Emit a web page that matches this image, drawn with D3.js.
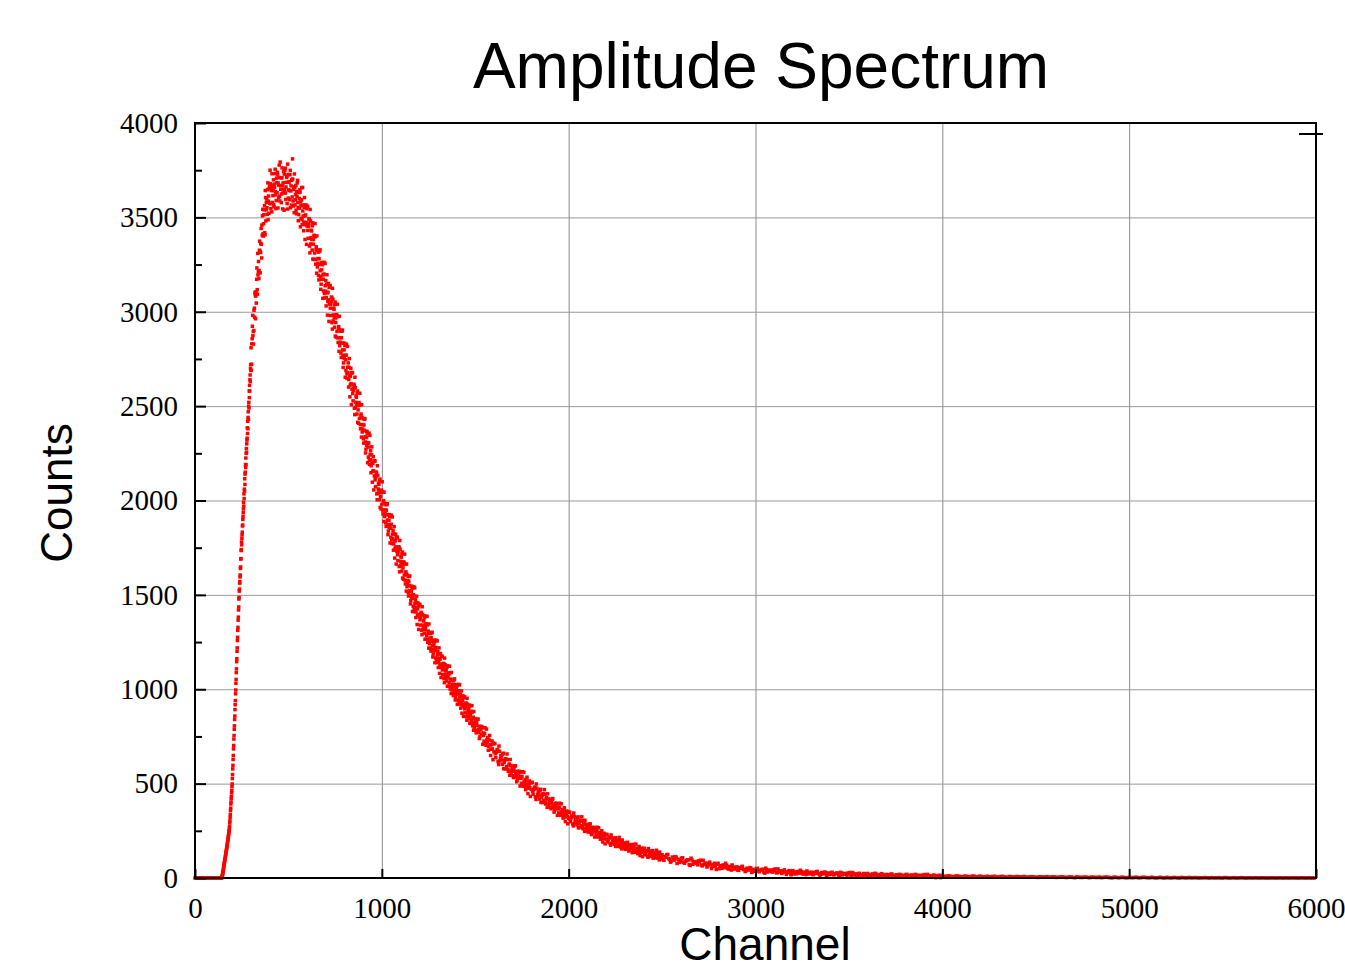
<!DOCTYPE html>
<html>
<head>
<meta charset="utf-8">
<script src="https://cdn.jsdelivr.net/npm/d3@7"></script>
<style>
  html, body { margin: 0; padding: 0; background: #ffffff; }
  svg { display: block; }
</style>
</head>
<body>
<svg id="chart" width="1345" height="968"></svg>
<script>
// ---------------- DATA ----------------
const titleText = "Amplitude Spectrum";
const xLabelText = "Channel";
const yLabelText = "Counts";
const xTicks = [0, 1000, 2000, 3000, 4000, 5000, 6000];
const yTicks = [0, 500, 1000, 1500, 2000, 2500, 3000, 3500, 4000];
const yMinorTicks = [250, 750, 1250, 1750, 2250, 2750, 3250, 3750];

// channels 0..135, every 5 channels
const baseCounts = [0,0,0,0,0,0,0,0,0,0,0,0,0,0,0,0,0,0,0,0,0,0,0,0,0,0,0,0];

// channels 140..299, every channel (steep rising edge)
const riseCounts = [
  0,1,2,3,6,8,13,16,22,27,35,39,48,53,61,66,74,78,87,91,
  98,102,111,115,123,127,135,140,148,153,161,166,174,179,188,193,202,207,217,222,
  232,237,247,252,263,274,292,303,322,336,357,370,392,403,422,433,452,464,485,498,
  527,548,578,597,628,649,684,702,736,755,788,806,840,858,892,918,940,976,996,1032,
  1052,1088,1108,1146,1162,1201,1219,1258,1275,1312,1328,1366,1382,1420,1436,1478,1486,1520,1530,1562,
  1570,1595,1605,1640,1648,1690,1692,1735,1740,1780,1765,1800,1818,1832,1865,1870,1900,1915,1935,1955,
  1990,1970,2035,2010,2060,2050,2115,2085,2140,2150,2190,2175,2225,2190,2250,2275,2255,2300,2320,2330,
  2385,2355,2420,2380,2440,2470,2430,2500,2520,2490,2580,2545,2610,2580,2640,2665,2630,2700,2720,2690
];

// channels 300,303,...,1497 (peak and main decay)
const peakCountsA = [
  2809,2722,2857,2981,2895,2900,3019,3102,2963,3106,3172,3117,3309,3212,3176,3326,3320,3314,3441,3285,
  3404,3543,3401,3514,3562,3408,3605,3540,3597,3516,3683,3586,3522,3667,3750,3572,3642,3529,3670,3615,
  3699,3557,3659,3755,3619,3589,3684,3739,3550,3671,3711,3613,3793,3649,3578,3710,3670,3630,3743,3538,
  3644,3761,3595,3686,3718,3544,3727,3646,3689,3594,3749,3640,3565,3700,3810,3587,3648,3525,3659,3594,
  3669,3519,3611,3696,3553,3515,3600,3646,3450,3561,3593,3488,3658,3507,3429,3553,3507,3461,3566,3357,
  3454,3559,3389,3467,3489,3312,3481,3393,3428,3327,3471,3358,3277,3401,3467,3277,3331,3204,3326,3257,
  3316,3169,3251,3328,3187,3146,3222,3261,3071,3172,3200,3097,3256,3109,3031,3146,3100,3054,3150,2949,
  3041,3139,2980,3054,3074,2908,3066,2983,3013,2918,3051,2943,2865,2980,3040,2861,2909,2790,2904,2839,
  2897,2758,2834,2903,2769,2729,2798,2833,2653,2746,2770,2671,2816,2677,2601,2706,2659,2612,2700,2508,
  2590,2677,2528,2594,2610,2455,2598,2520,2547,2458,2580,2480,2409,2513,2568,2402,2447,2336,2440,2379,
  2433,2304,2372,2434,2310,2272,2334,2365,2200,2283,2304,2213,2345,2216,2147,2242,2198,2154,2232,2056,
  2130,2209,2073,2131,2145,2004,2133,2061,2085,2004,2113,2021,1955,2049,2099,1949,1989,1889,1985,1930,
  1978,1863,1926,1983,1872,1838,1895,1925,1775,1853,1874,1792,1913,1799,1737,1824,1786,1748,1821,1663,
  1732,1805,1681,1737,1751,1622,1742,1677,1700,1626,1727,1643,1583,1669,1716,1577,1613,1520,1608,1556,
  1599,1494,1550,1600,1499,1469,1519,1545,1412,1482,1500,1429,1537,1435,1380,1459,1425,1392,1457,1317,
  1384,1450,1340,1390,1403,1289,1396,1340,1362,1297,1389,1316,1265,1344,1386,1265,1299,1218,1299,1255,
  1295,1202,1255,1302,1213,1187,1236,1260,1141,1205,1221,1157,1256,1164,1115,1187,1158,1129,1189,1062,
  1116,1174,1078,1123,1135,1035,1130,1081,1100,1044,1124,1060,1015,1084,1122,1016,1047,977,1047,1009,
  1046,966,1013,1055,980,958,1002,1024,920,976,992,936,1023,943,900,963,938,913,966,856,
  907,960,875,915,925,836,921,878,894,844,916,859,819,881,913,819,846,783,844,810
];
// channels 301,304,...,1498
const peakCountsB = [
  2689,2830,2923,2873,2829,3008,2971,3090,3083,3046,3232,3093,3195,3266,3218,3374,3206,3362,3357,3459,
  3508,3413,3466,3540,3419,3642,3481,3579,3551,3647,3487,3613,3652,3575,3678,3546,3655,3731,3579,3642,
  3567,3676,3732,3636,3546,3708,3632,3726,3682,3605,3777,3587,3668,3709,3624,3762,3545,3683,3650,3729,
  3749,3629,3661,3712,3573,3782,3602,3685,3643,3726,3551,3667,3697,3608,3703,3560,3661,3730,3566,3621,
  3538,3637,3683,3579,3482,3632,3548,3633,3581,3495,3658,3462,3534,3566,3474,3605,3383,3513,3474,3546,
  3557,3431,3453,3493,3348,3542,3359,3432,3383,3455,3279,3383,3405,3311,3397,3252,3344,3402,3237,3282,
  3192,3281,3320,3217,3119,3258,3172,3249,3195,3110,3262,3073,3138,3165,3075,3196,2982,3103,3063,3129,
  3137,3019,3040,3078,2942,3124,2952,3019,2971,3038,2871,2967,2985,2896,2974,2837,2921,2976,2820,2863,
  2781,2862,2897,2798,2705,2833,2752,2821,2769,2688,2828,2647,2706,2729,2641,2752,2549,2659,2619,2676,
  2678,2567,2583,2616,2489,2653,2493,2553,2508,2569,2414,2503,2519,2435,2507,2380,2458,2507,2363,2402,
  2327,2400,2430,2338,2252,2367,2292,2354,2306,2230,2357,2191,2244,2264,2184,2284,2097,2197,2158,2210,
  2210,2109,2123,2151,2035,2184,2038,2091,2050,2104,1963,2041,2055,1979,2044,1929,1999,2044,1915,1950,
  1882,1949,1978,1896,1819,1924,1857,1915,1871,1805,1922,1772,1822,1842,1770,1862,1695,1787,1754,1802,
  1805,1713,1727,1755,1650,1788,1655,1704,1668,1718,1589,1662,1675,1605,1665,1558,1622,1663,1543,1575,
  1513,1572,1597,1522,1452,1546,1485,1536,1498,1439,1543,1411,1455,1474,1410,1493,1343,1427,1397,1442,
  1449,1368,1381,1407,1313,1437,1318,1364,1333,1379,1265,1332,1347,1286,1341,1249,1308,1346,1241,1271,
  1217,1273,1298,1232,1171,1257,1204,1252,1219,1166,1260,1141,1182,1199,1143,1219,1084,1160,1134,1175,
  1173,1102,1114,1137,1056,1165,1062,1102,1075,1116,1016,1075,1087,1034,1082,1001,1054,1089,996,1024,
  978,1027,1050,994,943,1019,974,1017,988,942,1026,922,958,973,924,991,873,940,919,955,
  958,896,907,927,854,952,860,897,872,908,820,872,883,836,878,806,852,882,799,823
];

// channels 1500,1505,...,2495
const decayCountsA = [
  842,769,807,842,772,750,785,802,708,755,766,715,789,717,677,731,706,682,726,627,
  669,712,638,670,678,601,671,633,646,602,661,612,578,629,657,576,598,544,596,567,
  593,532,565,595,537,520,550,565,487,528,538,496,560,499,468,514,495,476,514,432,
  469,506,444,472,479,416,475,443,456,418,470,429,400,445,468,401,420,374,419,395,
  417,367,394,421,372,358,383,396,332,366,375,340,393,344,317,356,339,323,355,287,
  317,349,298,322,328,276,326,300,311,281,324,290,267,304,324,269,285,247,285,265,
  283,243,265,287,245,237,258,268,217,245,252,223,266,227,205,236,223,210,237,181,
  206,231,191,210,215,174,214,194,202,178,213,186,168,199,215,170,184,154,185,169,
  185,152,172,189,158,149,168,177,134,158,165,142,179,146,129,155,146,136,158,113,
  135,157,123,140,144,110,144,127,135,115,145,123,107,133,147,110,121,96,123,109
];
// channels 1502,1507,...,2497
const decayCountsB = [
  782,823,840,788,739,804,761,796,768,725,796,703,732,744,698,755,649,706,684,714,
  712,658,665,681,618,699,620,649,627,656,579,623,632,591,627,565,604,628,558,578,
  542,578,593,550,510,565,530,560,538,502,563,486,512,522,485,534,447,496,478,505,
  506,460,467,481,429,498,431,457,439,464,400,438,446,412,443,392,425,446,387,404,
  375,405,417,383,349,396,367,392,374,345,396,332,353,363,331,372,299,340,326,348,
  348,311,317,329,286,344,290,312,297,319,266,298,305,277,303,261,289,306,259,273,
  249,274,284,257,230,268,244,265,251,228,269,217,234,242,217,250,191,223,213,230,
  230,201,206,216,182,228,185,203,191,209,167,193,198,177,198,164,187,201,164,176,
  157,177,187,164,143,174,156,174,162,144,179,136,152,158,139,167,119,147,139,154,
  156,131,136,145,116,156,119,135,125,141,105,128,133,114,133,105,124,137,105,114
];

// channels 2500,2510,...,3990
const slowCountsA = [
  123,94,110,125,98,90,106,113,77,96,
  89,107,78,92,96,66,95,81,87,70,
  85,69,94,71,58,77,70,62,78,45,
  78,62,51,68,78,52,60,42,59,50,
  59,41,52,62,44,39,49,55,30,44,
  39,51,33,42,46,26,45,37,41,31,
  41,29,48,32,24,37,32,28,39,17,
  39,29,22,34,41,24,30,18,31,24,
  31,18,25,35,22,19,26,31,14,24,
  21,30,16,24,26,12,26,20,24,15,
  24,16,29,17,12,21,18,15,24,7,
  24,17,12,20,25,13,17,9,18,14,
  19,10,16,21,13,10,16,19,7,13,
  11,19,9,13,15,5,16,11,13,7,
  14,8,19,10,4,12,10,8,14,2
];
// channels 2505,2515,...,3995
const slowCountsB = [
  98,115,123,103,84,111,95,110,100,83,
  105,84,88,96,71,105,73,86,78,91,
  94,64,74,79,65,84,50,70,63,74,
  49,65,68,55,68,47,61,69,47,54,
  42,54,59,46,34,52,42,52,45,35,
  50,37,40,45,29,52,32,41,36,44,
  48,27,35,38,28,43,19,33,29,36,
  21,31,34,26,34,21,30,37,22,27,
  19,29,33,24,15,29,22,30,26,18,
  29,20,22,26,15,30,16,23,20,26,
  29,14,19,22,15,25,8,19,16,22,
  10,18,21,14,21,11,18,23,11,15,
  11,17,20,14,8,17,12,18,14,9,
  18,11,13,15,6,19,8,14,10,15,
  18,6,11,13,7,16,2,11,9,14
];

// channels 4000,4020,...,5980
const tailCountsA = [
  12,8,11,7,11,7,10,7,10,6,10,6,9,6,9,5,9,5,8,5,
  8,5,8,4,7,4,7,4,7,4,6,4,6,3,6,3,6,3,5,3,
  5,3,5,3,5,2,5,2,4,2,4,2,4,2,4,2,4,1,3,1,
  3,1,3,1,3,1,3,1,2,1,2,1,2,1,2,0,2,0,2,0,
  2,0,1,0,1,0,1,0,1,0,1,0,1,0,1,0,1,0,1,0
];
// channels 4010,4030,...,5990
const tailCountsB = [
  9,11,6,10,8,7,9,6,10,5,8,7,6,8,5,7,6,4,7,5,
  6,7,4,6,5,3,6,5,4,6,3,5,4,3,5,2,4,3,4,2,
  4,3,2,4,3,1,3,2,3,1,2,3,1,3,2,1,2,1,3,0,
  2,1,2,0,2,1,1,2,0,1,2,0,1,1,0,2,0,1,0,1,
  1,0,1,1,0,1,0,0,1,0,1,0,0,1,0,0,1,0,0,0
];

const segments = [
  { start: 0,    step: 5,  counts: baseCounts },
  { start: 140,  step: 1,  counts: riseCounts },
  { start: 300,  step: 3,  counts: peakCountsA },
  { start: 301,  step: 3,  counts: peakCountsB },
  { start: 1500, step: 5,  counts: decayCountsA },
  { start: 1502, step: 5,  counts: decayCountsB },
  { start: 2500, step: 10, counts: slowCountsA },
  { start: 2505, step: 10, counts: slowCountsB },
  { start: 4000, step: 20, counts: tailCountsA },
  { start: 4010, step: 20, counts: tailCountsB }
];
const points = segments.flatMap(s => s.counts.map((c, i) => ({ ch: s.start + i * s.step, c })));

// ---------------- LAYOUT ----------------
const svg = d3.select("#chart");
const plotL = 195, plotR = 1316, plotT = 123, plotB = 878;
const x = d3.scaleLinear().domain([0, 6000]).range([plotL, plotR]);
const y = d3.scaleLinear().domain([0, 4000]).range([plotB, plotT]);

const serif = "'Liberation Serif', 'Times New Roman', serif";
const sans = "'Liberation Sans', Arial, sans-serif";

// grid lines
svg.append("g")
  .attr("transform", `translate(0,${plotB})`)
  .call(d3.axisBottom(x).tickValues(xTicks.slice(1, -1)).tickSize(-(plotB - plotT)).tickFormat(""))
  .call(g => g.select(".domain").remove())
  .call(g => g.selectAll("line").attr("stroke", "#8a8a8a").attr("stroke-width", 1));
svg.append("g")
  .attr("transform", `translate(${plotL},0)`)
  .call(d3.axisLeft(y).tickValues(yTicks.slice(1, -1)).tickSize(-(plotR - plotL)).tickFormat(""))
  .call(g => g.select(".domain").remove())
  .call(g => g.selectAll("line").attr("stroke", "#9a9a9a").attr("stroke-width", 1));

// data points (small square markers)
const mk = 3.5;
svg.append("g")
  .selectAll("rect")
  .data(points)
  .join("rect")
  .attr("x", d => x(d.ch) - mk / 2)
  .attr("y", d => y(d.c) - mk / 2)
  .attr("width", mk)
  .attr("height", mk)
  .attr("fill", "#ff0000");

// axes (ticks inward)
const xAxis = svg.append("g")
  .attr("transform", `translate(0,${plotB})`)
  .call(d3.axisBottom(x).tickValues(xTicks).tickSize(-9).tickPadding(19).tickFormat(d3.format("d")));
xAxis.select(".domain").remove();
xAxis.selectAll("line").attr("stroke", "#000").attr("stroke-width", 2);
xAxis.selectAll("text").attr("font-family", serif).attr("font-size", 29).attr("fill", "#000");

const yAxis = svg.append("g")
  .attr("transform", `translate(${plotL},0)`)
  .call(d3.axisLeft(y).tickValues(yTicks).tickSize(-11).tickPadding(17).tickFormat(d3.format("d")));
yAxis.select(".domain").remove();
yAxis.selectAll("line").attr("stroke", "#000").attr("stroke-width", 2);
yAxis.selectAll("text").attr("font-family", serif).attr("font-size", 29).attr("fill", "#000");

svg.append("g")
  .attr("transform", `translate(${plotL},0)`)
  .call(d3.axisLeft(y).tickValues(yMinorTicks).tickSize(-7).tickFormat(""))
  .call(g => g.select(".domain").remove())
  .call(g => g.selectAll("line").attr("stroke", "#000").attr("stroke-width", 2));

// frame
svg.append("rect")
  .attr("x", plotL).attr("y", plotT)
  .attr("width", plotR - plotL).attr("height", plotB - plotT)
  .attr("fill", "none").attr("stroke", "#000").attr("stroke-width", 2);

// small key mark at top right
svg.append("line")
  .attr("x1", plotR - 17).attr("x2", plotR + 7)
  .attr("y1", plotT + 11).attr("y2", plotT + 11)
  .attr("stroke", "#000").attr("stroke-width", 2);

// title and axis labels
svg.append("text")
  .attr("x", 761).attr("y", 88)
  .attr("text-anchor", "middle")
  .attr("font-family", sans).attr("font-size", 64).attr("fill", "#000")
  .text(titleText);

svg.append("text")
  .attr("x", 765).attr("y", 960)
  .attr("text-anchor", "middle")
  .attr("font-family", sans).attr("font-size", 46).attr("fill", "#000")
  .text(xLabelText);

svg.append("text")
  .attr("transform", "translate(72,493) rotate(-90)")
  .attr("text-anchor", "middle")
  .attr("font-family", sans).attr("font-size", 44).attr("fill", "#000")
  .text(yLabelText);
</script>
</body>
</html>
